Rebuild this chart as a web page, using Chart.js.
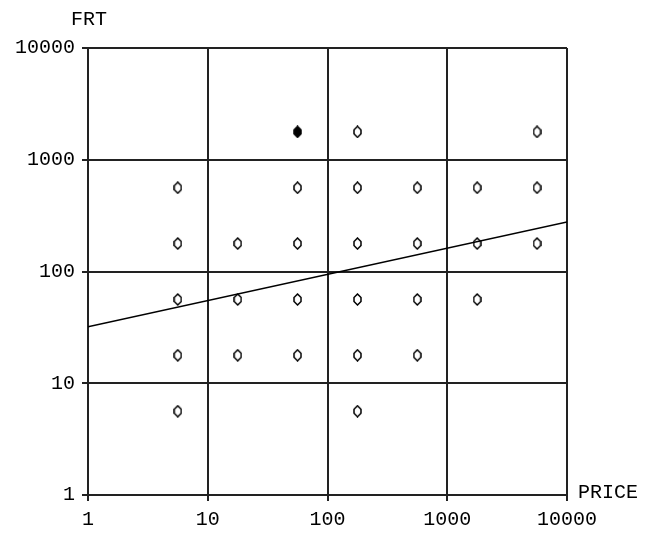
<!DOCTYPE html>
<html>
<head>
<meta charset="utf-8">
<script src="https://cdn.jsdelivr.net/npm/chart.js@4/dist/chart.umd.min.js"></script>
<style>
html,body{margin:0;padding:0;background:#fff;}
#wrap{width:659px;height:539px;position:relative;}
</style>
</head>
<body>
<div id="wrap"><canvas id="c" width="659" height="539"></canvas></div>
<script>
// Data
const priceOpen = [5.62,5.62,5.62,5.62,5.62, 17.8,17.8,17.8, 56.2,56.2,56.2,56.2, 178,178,178,178,178,178, 562,562,562,562, 1778,1778,1778, 5623,5623,5623];
const frtOpen   = [562,178,56.2,17.8,5.62,   178,56.2,17.8,  562,178,56.2,17.8,   1778,562,178,56.2,17.8,5.62, 562,178,56.2,17.8, 562,178,56.2, 1778,562,178];
const priceFilled = [56.2];
const frtFilled   = [1778];
const fitPrice = [1, 10000];
const fitFrt   = [32, 277];
const tickValues = [1, 10, 100, 1000, 10000];
const xTitle = 'PRICE';
const yTitle = 'FRT';

function diamond(filled){
  const cv = document.createElement('canvas');
  cv.width = 9; cv.height = 13;
  const g = cv.getContext('2d');
  g.beginPath();
  g.moveTo(4.5,1); g.lineTo(8,4.5); g.lineTo(8,8.5); g.lineTo(4.5,12); g.lineTo(1,8.5); g.lineTo(1,4.5); g.closePath();
  g.fillStyle = filled ? '#000' : '#fff';
  g.fill();
  g.lineWidth = 1.5; g.strokeStyle = '#000'; g.stroke();
  return cv;
}

const FONT = {family: '"Liberation Mono", "Courier New", monospace', size: 20};

const titlesPlugin = {
  id: 'titles',
  afterDraw(chart){
    const {ctx, chartArea} = chart;
    ctx.save();
    ctx.fillStyle = '#000';
    ctx.font = '20px "Liberation Mono", monospace';
    ctx.textBaseline = 'middle';
    ctx.textAlign = 'center';
    ctx.fillText(yTitle, chartArea.left + 1, 20);
    ctx.textAlign = 'left';
    ctx.fillText(xTitle, chartArea.right + 11, chartArea.bottom - 2);
    ctx.restore();
  }
};

const axisCommon = (extra) => Object.assign({
  type: 'logarithmic',
  min: 1, max: 10000,
  afterBuildTicks(axis){ axis.ticks = tickValues.map(v => ({value: v})); },
  grid: {color: '#222', lineWidth: 2, tickLength: 6, drawTicks: true},
  border: {color: '#222', width: 2},
  ticks: {color: '#000', font: FONT, padding: 7, autoSkip: false, maxRotation: 0,
          callback: (v) => String(v)}
}, extra);

new Chart(document.getElementById('c'), {
  type: 'scatter',
  data: {
    datasets: [
      {
        type: 'line',
        data: fitPrice.map((x,i)=>({x, y: fitFrt[i]})),
        borderColor: '#000', borderWidth: 1.5, pointRadius: 0, fill: false
      },
      {
        data: priceOpen.map((x,i)=>({x, y: frtOpen[i]})),
        pointStyle: diamond(false), pointRadius: 5
      },
      {
        data: priceFilled.map((x,i)=>({x, y: frtFilled[i]})),
        pointStyle: diamond(true), pointRadius: 5
      }
    ]
  },
  options: {
    responsive: false,
    animation: false,
    layout: {padding: {left: 0, right: 92, top: 48, bottom: 0}},
    plugins: {legend: {display: false}, tooltip: {enabled: false}},
    scales: {
      x: axisCommon({afterFit(s){ s.height = 44; }}),
      y: axisCommon({afterFit(s){ s.width = 88; }})
    }
  },
  plugins: [titlesPlugin]
});
</script>
</body>
</html>
